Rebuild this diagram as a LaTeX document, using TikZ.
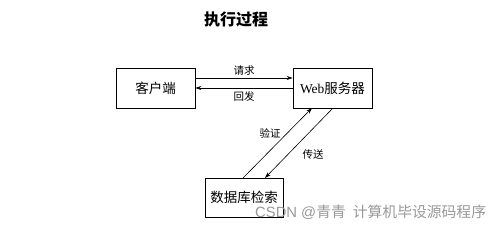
\documentclass[tikz,border=0pt]{standalone}
\usepackage{fontspec}
\setmainfont{Liberation Serif}
\newfontfamily\cjk{Noto Sans CJK SC}
\usetikzlibrary{arrows.meta}
\begin{document}
\begin{tikzpicture}[x=1pt,y=-1pt,
  box/.style={draw, line width=0.7pt, minimum width=79pt, minimum height=40pt, inner sep=0pt, font=\fontsize{13.5}{13.5}\selectfont},
  conn/.style={line width=0.6pt, -{Stealth[length=6pt,width=4pt]}},
  lbl/.style={font=\cjk\fontsize{10.5}{10.5}\selectfont, inner sep=0pt}]
\useasboundingbox (0,0) rectangle (498,225);
\fill[white] (0,0) rectangle (498,225);
\node[font=\cjk\bfseries\fontsize{16}{16}\selectfont] (title) at (236,19) {执行过程};
\node[box] (client) at (155.5,88) {\cjk 客户端};
\node[box] (web) at (332.5,88) {Web{\cjk 服务器}};
\node[box, minimum width=78pt, minimum height=39pt] (db) at (244,197.5) {\cjk 数据库检索};
\draw[conn] (client.east |- 0,78) -- (web.west |- 0,78) node[lbl, midway, above=2pt] (req) {请求};
\draw[conn] (web.west |- 0,88) -- (client.east |- 0,88) node[lbl, midway, below=3pt] (resp) {回发};
\coordinate (v1) at (243,178);
\coordinate (v2) at (312,108);
\coordinate (t1) at (333,108);
\coordinate (t2) at (265,178);
\draw[conn] (v1) -- (v2);
\draw[conn] (t1) -- (t2);
\node[lbl] (ver) at (270,133) {验证};
\node[lbl] (trans) at (313,155) {传送};
\node[font=\fontsize{14.8}{14.8}\selectfont, text=black!40, inner sep=0pt, anchor=west] (wm) at (255,212) {\fontspec{Liberation Sans}CSDN @{\cjk 青青}\hspace{7pt}{\cjk 计算机毕设源码程序}};
\end{tikzpicture}
\end{document}
